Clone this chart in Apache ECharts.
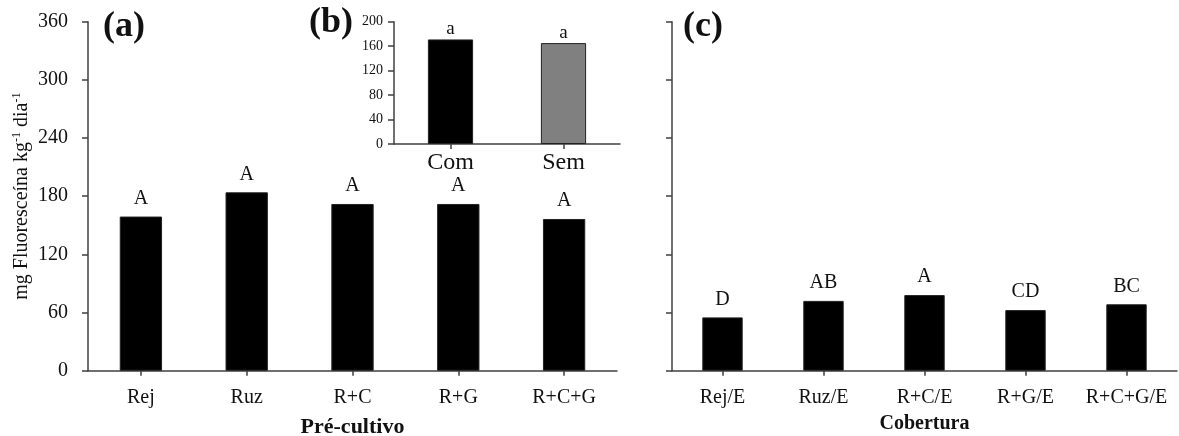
<!DOCTYPE html>
<html style="height: 100%">
<head>
    <meta charset="utf-8">
    <title>Fluoresceína</title>
    <script src="https://cdn.jsdelivr.net/npm/echarts@6/dist/echarts.min.js"></script>
</head>
<body style="height: 100%; margin: 0; background: #fff">
<div id="container" style="width: 1179px; height: 436px"></div>
<script type="text/javascript">
    // (a) pré-cultivo
    var preCats = ['Rej', 'Ruz', 'R+C', 'R+G', 'R+C+G'];
    var preVals = [159, 184, 172, 172, 156.5];
    var preLetters = ['A', 'A', 'A', 'A', 'A'];
    // (b) com / sem
    var insetCats = ['Com', 'Sem'];
    var insetVals = [171, 165];
    var insetLetters = ['a', 'a'];
    // (c) cobertura
    var covCats = ['Rej/E', 'Ruz/E', 'R+C/E', 'R+G/E', 'R+C+G/E'];
    var covVals = [55, 72, 78, 62.5, 68.5];
    var covLetters = ['D', 'AB', 'A', 'CD', 'BC'];

    var FONT = "'Liberation Serif', 'Times New Roman', serif";
    var LINE = '#404040';

    function axisLine() {
        return {show: true, lineStyle: {color: LINE, width: 1.5}};
    }

    function catAxis(idx, cats, size, margin, name, nameSize, gap) {
        return {
            type: 'category', gridIndex: idx, data: cats,
            axisLine: axisLine(),
            axisTick: {show: true, alignWithLabel: true, length: 5, lineStyle: {color: LINE, width: 1.5}},
            axisLabel: {interval: 0, fontFamily: FONT, fontSize: size, color: '#111', margin: margin},
            name: name, nameLocation: 'middle', nameGap: gap,
            nameTextStyle: {fontFamily: FONT, fontSize: nameSize, fontWeight: 'bold', color: '#111'}
        };
    }

    function valAxis(idx, max, step, showLabels, size, margin) {
        return {
            type: 'value', gridIndex: idx, min: 0, max: max, interval: step,
            splitLine: {show: false},
            axisLine: axisLine(),
            axisTick: {show: true, inside: false, length: 6, lineStyle: {color: LINE, width: 1.5}},
            axisLabel: {show: showLabels, fontFamily: FONT, fontSize: size, color: '#111', margin: margin}
        };
    }

    function bars(idx, vals, letters, labelSize, dist) {
        return {
            type: 'bar', xAxisIndex: idx, yAxisIndex: idx, data: vals,
            barWidth: '40%',
            itemStyle: {color: '#000', borderColor: '#222', borderWidth: 1},
            label: {
                show: true, position: 'top', distance: dist,
                fontFamily: FONT, fontSize: labelSize, color: '#111',
                formatter: function (p) { return letters[p.dataIndex]; }
            },
            silent: true, z: 2
        };
    }

    var chart = echarts.init(document.getElementById('container'));
    var option = {
        animation: false,
        backgroundColor: '#fff',
        grid: [
            {left: 88, top: 21.7, width: 529, height: 349, containLabel: false, outerBoundsMode: 'none'},
            {left: 394, top: 21.7, width: 226, height: 122.3, z: 5, containLabel: false, outerBoundsMode: 'none'},
            {left: 672, top: 21.7, width: 505, height: 349, containLabel: false, outerBoundsMode: 'none'}
        ],
        xAxis: [
            catAxis(0, preCats, 20, 17, 'Pré-cultivo', 22, 46),
            Object.assign(catAxis(1, insetCats, 24, 7, '', 12, 30), {z: 5}),
            catAxis(2, covCats, 20, 17, 'Cobertura', 20, 43)
        ],
        yAxis: [
            Object.assign(valAxis(0, 360, 60, true, 20, 20), {
                name: 'mg Fluoresceína kg{s|-1} dia{s|-1}',
                nameLocation: 'middle', nameRotate: 90, nameGap: 55,
                nameTextStyle: {
                    fontFamily: FONT, fontSize: 20, color: '#111', lineHeight: 22,
                    rich: {s: {fontFamily: FONT, fontSize: 12, verticalAlign: 'top', lineHeight: 22, color: '#111'}}
                }
            }),
            Object.assign(valAxis(1, 200, 40, true, 14, 11), {z: 5}),
            valAxis(2, 360, 60, false, 20, 20)
        ],
        series: [
            bars(0, preVals, preLetters, 20, 8),
            Object.assign(bars(1, insetVals, insetLetters, 19, 1), {
                data: insetVals.map(function (v, i) {
                    return {value: v, itemStyle: {color: i === 0 ? '#000' : '#808080'}};
                }), z: 6
            }),
            bars(2, covVals, covLetters, 20, 8)
        ],
        graphic: [
            {type: 'text', left: 103, top: 9, style: {text: '(a)', fontFamily: FONT, fontSize: 36, fontWeight: 'bold', fill: '#111'}},
            {type: 'text', left: 309, top: 5, z: 10, style: {text: '(b)', fontFamily: FONT, fontSize: 36, fontWeight: 'bold', fill: '#111'}},
            {type: 'text', left: 683, top: 9, style: {text: '(c)', fontFamily: FONT, fontSize: 36, fontWeight: 'bold', fill: '#111'}}
        ]
    };
    chart.setOption(option);
</script>
</body>
</html>
